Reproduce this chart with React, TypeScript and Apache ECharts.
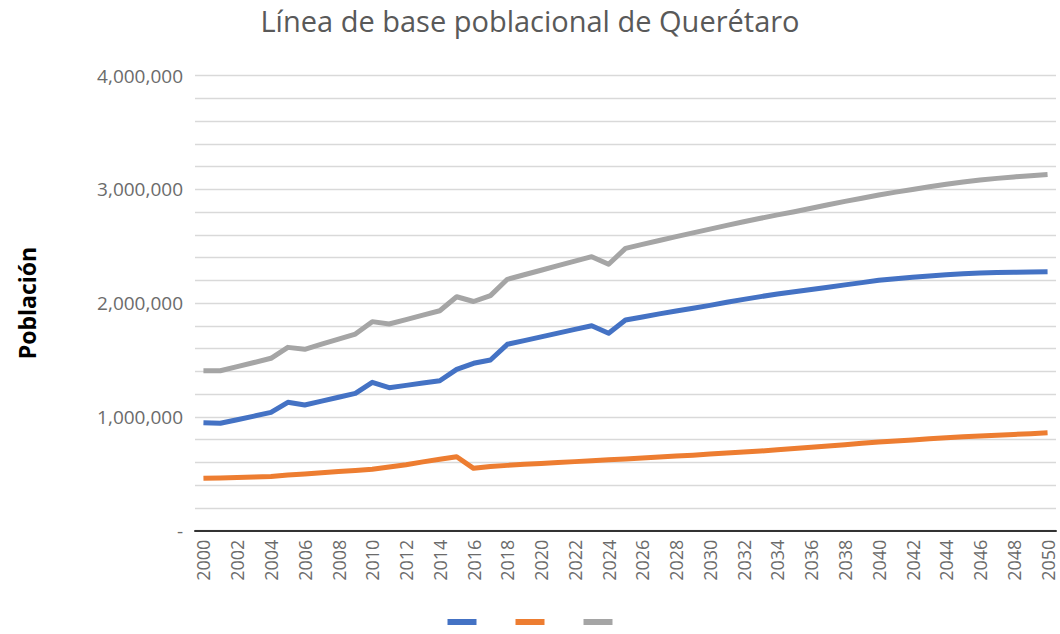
import React, { useEffect, useRef } from "react";
import * as echarts from "echarts";

const years: string[] = [];
for (let y = 2000; y <= 2050; y++) years.push(String(y));

// Values in millions of people
const seriesBlue: number[] = [
  0.949, 0.944, 0.975, 1.007, 1.04, 1.128, 1.105, 1.139, 1.173, 1.207,
  1.304, 1.257, 1.277, 1.297, 1.318, 1.418, 1.471, 1.5, 1.638, 1.67,
  1.703, 1.736, 1.769, 1.801, 1.735, 1.851, 1.878, 1.905, 1.93, 1.955,
  1.98, 2.007, 2.033, 2.057, 2.08, 2.1, 2.12, 2.14, 2.16, 2.18,
  2.2, 2.214, 2.227, 2.238, 2.249, 2.258, 2.264, 2.268, 2.271, 2.273, 2.275,
];
const seriesOrange: number[] = [
  0.46, 0.463, 0.467, 0.471, 0.476, 0.489, 0.499, 0.509, 0.52, 0.53,
  0.54, 0.56, 0.58, 0.605, 0.628, 0.65, 0.548, 0.565, 0.574, 0.583,
  0.591, 0.599, 0.607, 0.615, 0.623, 0.631, 0.639, 0.647, 0.656, 0.664,
  0.673, 0.682, 0.691, 0.7, 0.711, 0.722, 0.733, 0.745, 0.756, 0.768,
  0.78, 0.789, 0.798, 0.807, 0.816, 0.825, 0.832, 0.839, 0.846, 0.853, 0.861,
];
const seriesGray: number[] = [
  1.406, 1.406, 1.442, 1.478, 1.515, 1.611, 1.594, 1.639, 1.683, 1.728,
  1.837, 1.816, 1.855, 1.894, 1.933, 2.056, 2.014, 2.066, 2.209, 2.249,
  2.289, 2.329, 2.369, 2.408, 2.341, 2.481, 2.516, 2.55, 2.584, 2.617,
  2.65, 2.683, 2.715, 2.745, 2.775, 2.803, 2.834, 2.864, 2.894, 2.922,
  2.95, 2.975, 2.999, 3.022, 3.044, 3.065, 3.081, 3.096, 3.109, 3.12, 3.131,
];

const seriesNames = ["Serie 1", "Serie 2", "Serie 3"];
const colors = ["#4472C4", "#ED7D31", "#A5A5A5"];

export default function App() {
  const ref = useRef<HTMLDivElement>(null);
  useEffect(() => {
    if (!ref.current) return;
    const chart = echarts.init(ref.current, null, { renderer: "svg" });
    const toPeople = (arr: number[]) => arr.map((v) => Math.round(v * 1e6));
    const font = "'Open Sans', 'Noto Sans', sans-serif";
    chart.setOption({
      animation: false,
      backgroundColor: "#ffffff",
      textStyle: { fontFamily: font },
      title: {
        text: "Línea de base poblacional de Querétaro",
        left: "center",
        top: 1,
        textStyle: { fontFamily: font, fontSize: 29, fontWeight: "normal", color: "#595959" },
      },
      grid: { left: 195, right: 4, top: 75.5, bottom: 103.3, containLabel: false },
      legend: {
        data: seriesNames,
        bottom: 4,
        left: "center",
        icon: "rect",
        itemWidth: 29,
        itemHeight: 6,
        itemGap: 39,
        formatter: () => "",
        textStyle: { fontSize: 1 },
      },
      xAxis: {
        type: "category",
        data: years,
        boundaryGap: true,
        axisLine: { show: true, lineStyle: { color: "#333333", width: 2 } },
        axisTick: { show: false },
        axisLabel: {
          interval: 1,
          rotate: 90,
          margin: 9,
          fontSize: 18,
          color: "#6b6b6b",
          fontFamily: font,
        },
        splitLine: { show: false },
      },
      yAxis: {
        type: "value",
        min: 0,
        max: 4000000,
        interval: 1000000,
        name: "Población",
        nameLocation: "middle",
        nameGap: 157,
        nameRotate: 90,
        nameTextStyle: { fontFamily: font, fontSize: 23, fontWeight: "bold", color: "#000000" },
        axisLine: { show: false },
        axisTick: { show: false },
        axisLabel: {
          margin: 12,
          fontSize: 19,
          color: "#6b6b6b",
          fontFamily: font,
          formatter: (v: number) => (v === 0 ? "-" : v.toLocaleString("en-US")),
        },
        splitLine: { show: true, lineStyle: { color: "#d9d9d9", width: 1.3 } },
        minorTick: { show: false, splitNumber: 5 },
        minorSplitLine: { show: true, lineStyle: { color: "#d9d9d9", width: 1.3 } },
      },
      series: [seriesBlue, seriesOrange, seriesGray].map((d, i) => ({
        name: seriesNames[i],
        type: "line",
        data: toPeople(d),
        symbol: "none",
        itemStyle: { color: colors[i] },
        lineStyle: { color: colors[i], width: 5, join: "round" },
      })),
    });
    return () => chart.dispose();
  }, []);
  return (
    <div
      ref={ref}
      style={{ position: "fixed", left: 0, top: 0, width: 1060, height: 634, background: "#fff" }}
    />
  );
}
